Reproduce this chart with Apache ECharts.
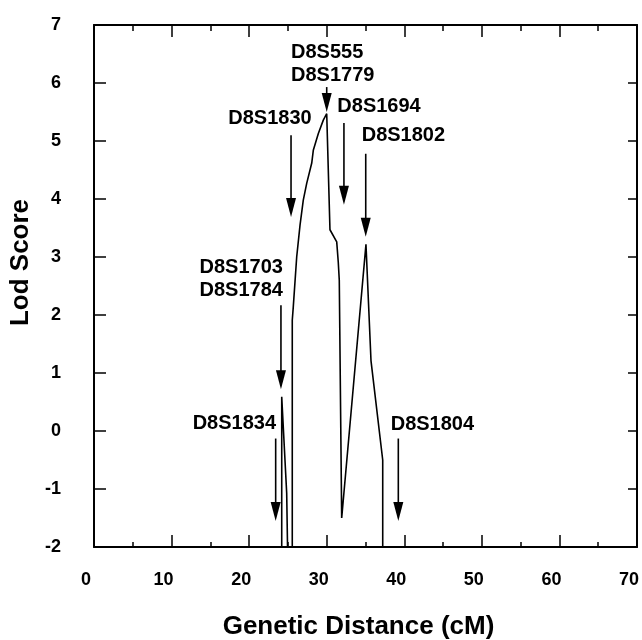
<!DOCTYPE html>
<html>
<head>
<meta charset="utf-8">
<script src="https://cdn.jsdelivr.net/npm/echarts@6/dist/echarts.min.js"></script>
<style>html,body{margin:0;padding:0;background:#fff}#c{width:642px;height:640px}</style>
</head>
<body>
<div id="c"></div>
<script>
// Lod score curve (cM, lod); null = gap in the curve
const curveX   = [24.2, 24.2, 24.84, 24.95, 25.0, 25.56, 25.56, 25.69, 26.13, 26.56, 26.98, 27.42, 28.07, 28.27, 28.92, 29.56, 30.0, 30.42, 31.29, 31.49, 31.62, 31.93, 35.06, 35.71, 37.22, 37.22];
const curveLod = [-2,   0.59, -1.07, -2,    null, -2,    1.91,  2.14,  3.0,   3.55,  3.98,  4.27,  4.62,  4.84,  5.13,  5.36,  5.47, 3.47,  3.26,  2.91,  2.6,   -1.5,  3.22,  1.21,  -0.5,  -2];

// Marker arrows
const markerNames = ['D8S555\nD8S1779', 'D8S1830', 'D8S1694', 'D8S1802', 'D8S1703\nD8S1784', 'D8S1834', 'D8S1804'];
const markerX     = [30.0, 25.4, 32.22, 35.03, 24.1, 23.42, 39.23];
const arrowTop    = [5.93, 5.10, 5.31, 4.78, 2.17, -0.13, -0.13];
const arrowTip    = [5.5, 3.69, 3.90, 3.35, 0.72, -1.55, -1.55];
const labelX      = [25.4, 17.31, 31.37, 34.51, 13.6, 12.72, 38.25];
const labelLod    = [6.32, 5.39, 5.59, 5.10, 2.62, 0.13, 0.11];

// Axis ticks
const xTicks = { min: 0, max: 70, step: 10 };
const yTicks = { min: -2, max: 7, step: 1 };

const FONT = '"Liberation Sans", Arial, Helvetica, sans-serif';
const chart = echarts.init(document.getElementById('c'), null, { renderer: 'canvas' });

const lineData = curveX.map((x, i) => [x, curveLod[i] === null ? '-' : curveLod[i]]);
const arrowData = markerX.map((x, i) => [x, arrowTop[i], arrowTip[i]]);
const labelData = labelX.map((x, i) => [x, labelLod[i]]);

const axisLineStyle = { color: '#000', width: 2 };
const tickStyle = { color: '#000', width: 1.5 };

chart.setOption({
  animation: false,
  backgroundColor: '#fff',
  grid: { left: 94, top: 25, right: 5, bottom: 93, containLabel: false, outerBoundsMode: 'none' },
  xAxis: [{
    type: 'value', position: 'bottom', min: xTicks.min, max: xTicks.max, interval: xTicks.step,
    axisLine: { show: true, onZero: false, lineStyle: axisLineStyle },
    axisTick: { show: true, inside: true, length: 12, lineStyle: tickStyle },
    minorTick: { show: true, splitNumber: 2, length: 5, lineStyle: tickStyle },
    splitLine: { show: false }, minorSplitLine: { show: false },
    axisLabel: { show: true, margin: 24, color: '#000', fontSize: 18, fontWeight: 'bold', fontFamily: FONT, padding: [0, 16, 0, 0] },
    name: 'Genetic Distance (cM)', nameLocation: 'middle', nameGap: 67,
    nameTextStyle: { color: '#000', fontSize: 26, fontWeight: 'bold', fontFamily: FONT, padding: [0, 14, 0, 0] }
  }, {
    type: 'value', position: 'top', min: xTicks.min, max: xTicks.max, interval: xTicks.step,
    axisLine: { show: true, onZero: false, lineStyle: axisLineStyle },
    axisTick: { show: true, inside: true, length: 12, lineStyle: tickStyle },
    minorTick: { show: true, splitNumber: 2, length: 6, lineStyle: tickStyle },
    splitLine: { show: false }, minorSplitLine: { show: false },
    axisLabel: { show: false }
  }],
  yAxis: [{
    type: 'value', position: 'left', min: yTicks.min, max: yTicks.max, interval: yTicks.step,
    axisLine: { show: true, onZero: false, lineStyle: axisLineStyle },
    axisTick: { show: true, inside: true, length: 12, lineStyle: tickStyle },
    splitLine: { show: false },
    axisLabel: { show: true, margin: 33, color: '#000', fontSize: 18, fontWeight: 'bold', fontFamily: FONT, padding: [0, 0, 5, 0] },
    name: 'Lod Score', nameLocation: 'middle', nameGap: 55,
    nameTextStyle: { color: '#000', fontSize: 26, fontWeight: 'bold', fontFamily: FONT, padding: [0, 0, 0, 47] }
  }, {
    type: 'value', position: 'right', min: yTicks.min, max: yTicks.max, interval: yTicks.step,
    axisLine: { show: true, onZero: false, lineStyle: axisLineStyle },
    axisTick: { show: true, inside: true, length: 9, lineStyle: tickStyle },
    splitLine: { show: false },
    axisLabel: { show: false }
  }],
  series: [{
    type: 'line', xAxisIndex: 0, yAxisIndex: 0,
    data: lineData, showSymbol: false, symbol: 'none', connectNulls: false,
    lineStyle: { color: '#000', width: 1.6 }, clip: true, silent: true
  }, {
    type: 'custom', xAxisIndex: 0, yAxisIndex: 0,
    data: arrowData, encode: { x: 0, y: [1, 2] }, silent: true, clip: false,
    renderItem: function (params, api) {
      const x = api.value(0), top = api.value(1), tip = api.value(2);
      const p1 = api.coord([x, top]);
      const p2 = api.coord([x, tip]);
      const hw = 5, hh = 19;
      return {
        type: 'group',
        children: [
          { type: 'line', shape: { x1: p1[0], y1: p1[1], x2: p2[0], y2: p2[1] - hh + 2 }, style: { stroke: '#000', lineWidth: 1.6 } },
          { type: 'polygon', shape: { points: [[p2[0] - hw, p2[1] - hh], [p2[0] + hw, p2[1] - hh], [p2[0], p2[1]]] }, style: { fill: '#000' } }
        ]
      };
    }
  }, {
    type: 'custom', xAxisIndex: 0, yAxisIndex: 0,
    data: labelData, encode: { x: 0, y: 1 }, silent: true, clip: false,
    renderItem: function (params, api) {
      const p = api.coord([api.value(0), api.value(1)]);
      return {
        type: 'text', x: p[0], y: p[1],
        style: {
          text: markerNames[params.dataIndex], fill: '#000',
          font: 'bold 20px ' + FONT, lineHeight: 23,
          align: 'left', verticalAlign: 'middle'
        }
      };
    }
  }]
});
</script>
</body>
</html>
